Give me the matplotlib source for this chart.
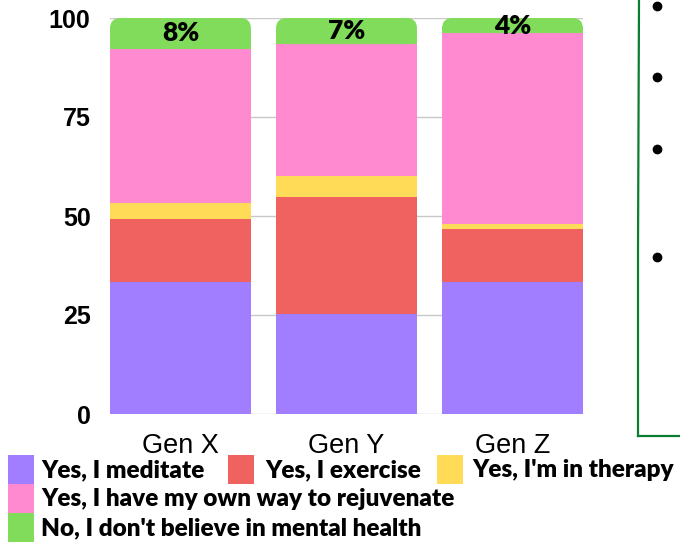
import matplotlib
matplotlib.use("Agg")
import matplotlib.pyplot as plt
import numpy as np
from matplotlib.patches import Rectangle, FancyBboxPatch
from matplotlib.lines import Line2D

categories = ["Gen X", "Gen Y", "Gen Z"]
series_names = ["Yes, I meditate", "Yes, I exercise", "Yes, I'm in therapy",
                "Yes, I have my own way to rejuvenate", "No, I don't believe in mental health"]
meditate = [33.3, 25.3, 33.3]
exercise = [15.9, 29.5, 13.4]
therapy = [4.1, 5.3, 1.3]
rejuvenate = [38.9, 33.3, 48.2]
no_belief = [7.8, 6.6, 3.8]
top_labels = ["8%", "7%", "4%"]
yticks = [0, 25, 50, 75, 100]
colors = ["#a07eff", "#f0625f", "#ffdb58", "#ff8ad0", "#80dc5a"]

W, H = 680, 543
fig = plt.figure(figsize=(W / 100, H / 100), dpi=100)
ax = fig.add_axes([110 / W, 1 - 414 / H, (583 - 110) / W, (414 - 18) / H])

width = 0.849
x = np.arange(len(categories))
series = [meditate, exercise, therapy, rejuvenate, no_belief]
bottom = np.zeros(len(categories))
for i, (vals, c) in enumerate(zip(series, colors)):
    vals = np.array(vals)
    if i < len(series) - 1:
        ax.bar(x, vals, width, bottom=bottom, color=c, zorder=3, linewidth=0)
    else:
        # top segment with rounded upper corners
        rx = 0.065
        ry = 2.6
        for xi, b, v in zip(x, bottom, vals):
            p = FancyBboxPatch((xi - width / 2, b), width, v,
                               boxstyle=f"round,pad=0,rounding_size={rx}",
                               mutation_aspect=ry / rx, facecolor=c,
                               edgecolor="none", zorder=3)
            ax.add_patch(p)
        ax.bar(x, vals / 2, width, bottom=bottom, color=c, zorder=3, linewidth=0)
    bottom = bottom + vals

# labels in the top segment
b_top = np.array(meditate) + np.array(exercise) + np.array(therapy) + np.array(rejuvenate)
for xi, b, v, lab in zip(x, b_top, no_belief, top_labels):
    ax.text(xi, b + v / 2, lab, ha="center", va="center", fontsize=19,
            fontweight="heavy", family=["Lato", "DejaVu Sans"], zorder=5)

ax.set_xlim(-width / 2, 2 + width / 2)
ax.set_ylim(0, 100)
ax.set_yticks(yticks)
ax.set_yticklabels([str(t) for t in yticks], fontsize=18, fontweight="bold",
                   family="Liberation Sans")
ax.set_xticks(x)
ax.set_xticklabels(categories, fontsize=19.5, family="Liberation Sans")
ax.tick_params(axis="both", length=0)
ax.tick_params(axis="y", pad=14)
ax.tick_params(axis="x", pad=14)
for s in ax.spines.values():
    s.set_visible(False)
ax.grid(axis="y", color="#c8c8c8", linewidth=1, zorder=0)
ax.set_axisbelow(True)

# legend (manual flow layout)
legend_items = [
    (0, 8, 41, 470),
    (1, 228, 265, 470),
    (2, 437, 472, 470),
    (3, 8, 41, 499),
    (4, 8, 41, 528),
]
for idx, px, tx, py in legend_items:
    fig.add_artist(Rectangle((px / W, 1 - (py + 14) / H), 26 / W, 29 / H,
                             transform=fig.transFigure, facecolor=colors[idx],
                             edgecolor="none"))
    fig.text(tx / W, 1 - py / H, series_names[idx], ha="left", va="center",
             fontsize=17.5, fontweight="heavy", family=["Lato", "DejaVu Sans"])

# decorative green box and bullets on the right
green = "#0a7d32"
fig.add_artist(Line2D([639 / W, 638 / W, 638 / W], [1.0, 1 - 250 / H, 1 - 436 / H],
                      transform=fig.transFigure, color=green, lw=1.6))
fig.add_artist(Line2D([638 / W, 1.0], [1 - 436 / H, 1 - 436 / H],
                      transform=fig.transFigure, color=green, lw=1.6))
for by in [6, 77, 149, 257]:
    fig.add_artist(Line2D([657 / W], [1 - by / H], marker="o", ms=6,
                          color="black", transform=fig.transFigure, lw=0))

fig.savefig("out.png", dpi=100)
